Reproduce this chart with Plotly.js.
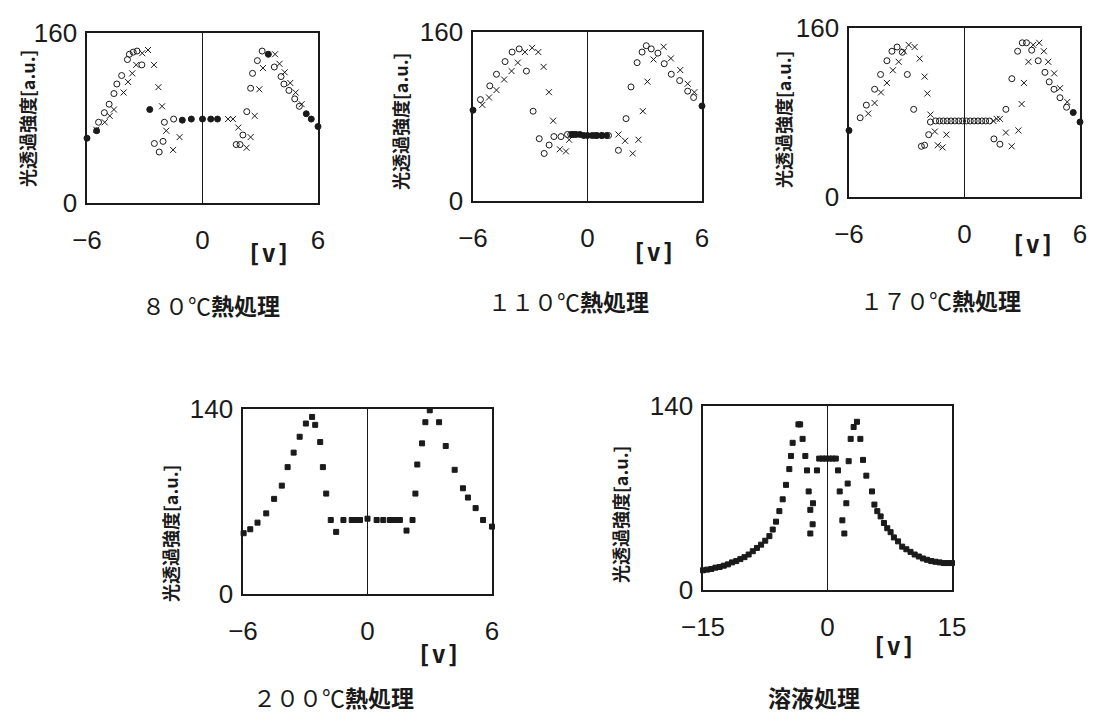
<!DOCTYPE html>
<html><head><meta charset="utf-8">
<script src="https://cdn.plot.ly/plotly-3.0.1.min.js"></script>
<style>html,body{margin:0;padding:0;background:#fff}#c{width:1093px;height:716px}</style>
</head><body><div id="c"></div>
<script>
// ---- panel titles / labels ----
const panelTitles = ['８０℃<b>熱処理</b>','１１０℃<b>熱処理</b>','１７０℃<b>熱処理</b>','２００℃<b>熱処理</b>','<b>溶液処理</b>'];
const yLabel = '光透過強度[a.u.]';
const xLabel = '[v]';
const xTicks6 = [-6,0,6];
const xTicks15 = [-15,0,15];
const yTicks160 = [0,160];
const yTicks140 = [0,140];

// ---- 80℃ ----
const p80_o_x = [-5.4,-5.1,-4.85,-4.6,-4.45,-4.2,-3.9,-3.8,-3.6,-3.4,-3.15,-2.5,-2.25,-2.05,-1.98,-1.5,1.75,1.95,2.1,2.3,2.5,2.6,2.85,3.1,3.73,4.08,4.23,4.49,4.79,5.03];
const p80_o_y = [76,85,93,103,112,120,135,140,142,143,130,56,48,58,76,79,55,55,64,86,108,122,134,143,128,119,112,106,98,91];
const p80_x_x = [-5.52,-5.08,-4.82,-4.6,-4.1,-3.87,-3.65,-3.44,-3.13,-2.83,-2.52,-2.29,-2.1,-1.88,-1.53,-1.19,1.33,1.58,1.86,2.29,2.5,2.71,2.95,3.14,3.77,4.0,4.27,4.56,4.84,5.15];
const p80_x_y = [69,76,82,88,104,114,122,130,141,144,130,109,91,68,50,62,79,79,71,52,62,82,107,127,140,131,123,113,104,93];
const p80_f_x = [-6,-5.5,-2.74,-1.05,-0.58,0,0.43,0.78,3.42,5.39,5.65,6];
const p80_f_y = [61,68,88,78,79,79,79,79,140,84,79,72];

// ---- 110℃ ----
const p110_o_x = [-5.61,-5.12,-4.77,-4.32,-3.95,-3.58,-3.2,-2.85,-2.53,-2.27,-2.01,-1.76,-1.39,-1.05,-0.88,-0.7,0.4,0.75,1.1,1.62,2.02,2.28,2.6,2.86,3.08,3.34,3.69,4.02,4.39,4.83,5.25,5.56];
const p110_o_y = [96,109,120,132,141,144,123,85,59,45,53,61,61,63,63,63,62,62,62,48,78,108,131,141,147,144,140,130,120,114,104,98];
const p110_x_x = [-5.51,-5.16,-4.77,-4.37,-3.98,-3.65,-3.28,-2.9,-2.58,-2.3,-2.02,-1.8,-1.45,-1.13,-0.96,1.62,1.97,2.37,2.67,2.9,3.14,3.46,3.99,4.37,4.86,5.25,5.6];
const p110_x_y = [91,98,105,115,123,131,141,145,141,127,103,76,49,47,58,63,57,45,58,85,113,134,146,135,124,111,103];
const p110_f_x = [-6,-0.8,-0.6,-0.4,-0.2,0,0.25,0.5,0.75,1.0,6];
const p110_f_y = [86,63,63,63,62,62,62,62,62,62,90];

// ---- 170℃ ----
const p170_o_x = [-5.42,-5.1,-4.67,-4.36,-4.03,-3.77,-3.5,-3.23,-2.97,-2.64,-2.24,-2.07,-1.86,-1.77,-1.5,-1.3,-1.1,-0.9,-0.7,-0.5,-0.3,-0.1,0.1,0.3,0.5,0.7,0.9,1.1,1.3,1.53,1.84,2.15,2.46,2.76,3.0,3.22,3.49,3.83,4.18,4.4,4.65,4.96,5.3];
const p170_o_y = [75,87,102,116,129,138,142,137,116,83,48,49,59,71,72,72,72,72,72,72,72,72,72,72,72,72,72,72,72,55,50,83,112,138,146,146,139,129,118,109,102,94,85];
const p170_x_x = [-5.0,-4.67,-4.34,-4.03,-3.72,-3.42,-3.15,-2.9,-2.59,-2.33,-2.07,-1.93,-1.77,-1.54,-1.39,-1.14,-0.94,1.5,1.67,1.84,2.15,2.45,2.8,2.97,3.09,3.32,3.57,3.88,4.12,4.35,4.66,4.96,5.34];
const p170_x_y = [79,89,99,108,120,128,138,144,142,131,114,98,78,62,49,47,59,72,74,74,61,48,63,88,108,128,144,146,138,128,117,103,90];
const p170_f_x = [-6,5.65,6];
const p170_f_y = [63,80,71];

// ---- 200℃ ----
const p200_x = [-5.97,-5.65,-5.3,-4.88,-4.5,-4.13,-3.85,-3.56,-3.27,-2.97,-2.67,-2.52,-2.28,-2.15,-1.99,-1.77,-1.51,-1.16,-0.76,-0.6,-0.36,0,0.44,0.76,1.08,1.32,1.56,1.88,2.17,2.31,2.4,2.63,2.79,3.0,3.45,3.77,4.2,4.6,4.84,5.21,5.57,6];
const p200_y = [46,49,54,61,72,82,96,107,119,129,134,128,115,96,76,56,47,56,56,56,56,57,56,56,56,56,56,48,56,76,98,114,130,139,130,112,94,80,73,65,56,51];

// ---- 溶液処理 ----
const pSol_x = [-15,-14.5,-14,-13.5,-13,-12.5,-12,-11.5,-11,-10.5,-10,-9.5,-9,-8.5,-8,-7.5,-7,-6.6,-6.2,-5.8,-5.4,-5,-4.6,-4.4,-4.2,-3.5,-3.3,-3.0,-2.67,-2.47,-2.27,-2.07,-1.79,-2.07,-1.75,-1.27,-1.0,-0.6,-0.2,0.2,0.6,1.0,1.27,1.47,1.79,2.03,2.27,2.43,2.55,2.79,3.15,3.55,3.96,4.28,4.68,5.36,5.65,6.0,6.4,6.8,7.2,7.6,8.0,8.5,9.0,9.5,10,10.5,11,11.5,12,12.5,13,13.5,14,14.5,15];
const pSol_y = [15,15.5,16,17,17.5,18.5,19.5,21,22,23.5,25,27,29.5,32,34.5,37.5,41,46,52,60,69,80,92,102,112,126,126,115,102,91,75,61,50,43,66,91,100,100,100,100,100,100,91,75,53,43,66,81,98,115,124,128,115,99,87,75,65,60,56,51,47,44,40,37,33,31,29,27,25.5,24,23,22,21.5,21,20.5,20.5,20.5];

const INK = '#1a1a1a';
const W = 1093, H = 716;
// plot frames in pixels [left,right,top,bottom]
const frames = [[87,318,33,203],[473,702,32,201],[849,1080,28,197],[243,492,409,594],[703,952,406,590]];
const TICKFONT = {family:'Liberation Sans, Arial', size:26, color:INK};

function xa(fr, range, ticks, yname){
  return {domain:[fr[0]/W, fr[1]/W], range:range, tickvals:ticks, ticktext:ticks.map(v=>v<0?'−'+Math.abs(v):String(v)),
    showline:true, mirror:true, linecolor:INK, linewidth:1.6, showgrid:false,
    zeroline:true, zerolinecolor:INK, zerolinewidth:1.2,
    ticks:'outside', ticklen:13, tickcolor:'rgba(0,0,0,0)',
    tickfont:TICKFONT, anchor:yname, fixedrange:true};
}
function ya(fr, range, ticks, xname){
  return {domain:[1-fr[3]/H, 1-fr[2]/H], range:range, tickvals:ticks,
    showline:true, mirror:true, linecolor:INK, linewidth:1.6, showgrid:false, zeroline:false,
    ticks:'outside', ticklen:3, tickcolor:'rgba(0,0,0,0)',
    tickfont:TICKFONT, anchor:xname, fixedrange:true};
}

function sc(x,y,sym,size,ax){
  return {type:'scatter', mode:'markers', x:x, y:y, xaxis:'x'+ax, yaxis:'y'+ax, cliponaxis:false,
    marker:{symbol:sym, size:size, color:INK, line:{color:INK, width:1}}, hoverinfo:'skip', showlegend:false};
}
const data = [
  sc(p80_o_x,p80_o_y,'circle-open',6,''), sc(p80_x_x,p80_x_y,'x-thin-open',6,''), sc(p80_f_x,p80_f_y,'circle',6,''),
  sc(p110_o_x,p110_o_y,'circle-open',6,'2'), sc(p110_x_x,p110_x_y,'x-thin-open',6,'2'), sc(p110_f_x,p110_f_y,'circle',6,'2'),
  sc(p170_o_x,p170_o_y,'circle-open',6,'3'), sc(p170_x_x,p170_x_y,'x-thin-open',6,'3'), sc(p170_f_x,p170_f_y,'circle',6,'3'),
  sc(p200_x,p200_y,'square',5,'4'),
  sc(pSol_x,pSol_y,'square',5,'5')
];

const layout = {width:W, height:H, margin:{l:0,r:0,t:0,b:0}, paper_bgcolor:'#fff', plot_bgcolor:'#fff', showlegend:false,
  xaxis:xa(frames[0],[-6,6],xTicks6,'y'), yaxis:ya(frames[0],[0,160],yTicks160,'x'),
  xaxis2:xa(frames[1],[-6,6],xTicks6,'y2'), yaxis2:ya(frames[1],[0,160],yTicks160,'x2'),
  xaxis3:xa(frames[2],[-6,6],xTicks6,'y3'), yaxis3:ya(frames[2],[0,160],yTicks160,'x3'),
  xaxis4:xa(frames[3],[-6,6],xTicks6,'y4'), yaxis4:ya(frames[3],[0,140],yTicks140,'x4'),
  xaxis5:xa(frames[4],[-15,15],xTicks15,'y5'), yaxis5:ya(frames[4],[0,140],yTicks140,'x5'),
  annotations:[]
};

const ylabPos = [[27,119],[400,122],[783,120],[170,534],[620,515]];
const vPos = [[268,254],[653,253],[1032,245],[438,655],[893,647]];
const titlePos = [[211,305],[568,301],[940,300],[333,697],[814,697]];
for(let i=0;i<5;i++){
  layout.annotations.push({xref:'paper', yref:'paper', x:ylabPos[i][0]/W, y:1-ylabPos[i][1]/H, text:'<b>'+yLabel+'</b>', textangle:-90, showarrow:false,
    font:{family:'Noto Sans CJK JP', size:18, color:INK}, xanchor:'center', yanchor:'middle'});
  layout.annotations.push({xref:'paper', yref:'paper', x:vPos[i][0]/W, y:1-vPos[i][1]/H, text:'<b>'+xLabel+'</b>', showarrow:false,
    font:{family:'DejaVu Sans Mono, Liberation Mono', size:24, color:INK}, xanchor:'center', yanchor:'middle'});
  layout.annotations.push({xref:'paper', yref:'paper', x:titlePos[i][0]/W, y:1-titlePos[i][1]/H, text:panelTitles[i], showarrow:false,
    font:{family:'Noto Sans CJK JP', size:23, color:INK}, xanchor:'center', yanchor:'middle'});
}
Plotly.newPlot('c', data, layout, {staticPlot:true});
</script></body></html>
